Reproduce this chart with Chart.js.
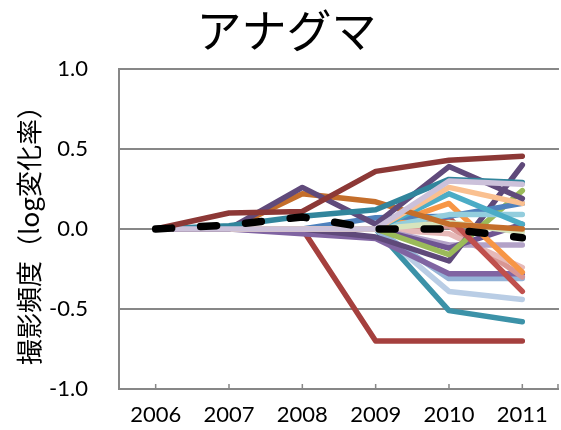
<!DOCTYPE html>
<html>
<head>
<meta charset="utf-8">
<script src="https://cdn.jsdelivr.net/npm/chart.js@4/dist/chart.umd.min.js"></script>
<style>
  html, body { margin: 0; padding: 0; background: #fff; }
  #wrap { width: 561px; height: 430px; }
</style>
</head>
<body>
<div id="wrap"><canvas id="c" width="561" height="430"></canvas></div>
<script>
// Years on the x axis and y-axis tick labels
const years = ['2006', '2007', '2008', '2009', '2010', '2011'];
const yTickValues = [-1.0, -0.5, 0.0, 0.5, 1.0];

// Log change rate of capture frequency per camera site, plus the mean
const meanRate   = [0, 0.025, 0.075, 0.0, 0.0, -0.055];
const siteA = [0, 0.10, 0.11, 0.36, 0.43, 0.455];
const siteB = [0, 0, 0, -0.70, -0.70, -0.70];
const siteC = [0, 0, 0.26, 0.03, 0.39, 0.19];
const siteD = [0, 0, 0.22, 0.17, 0.03, 0.0];
const siteE = [0, 0.02, 0.08, 0.12, 0.31, 0.29];
const siteF = [0, 0, 0, 0, 0.30, 0.28];
const siteG = [0, 0, 0, 0, 0.26, 0.16];
const siteH = [0, 0, 0, 0, 0.22, 0.03];
const siteI = [0, 0, 0, 0, 0.16, -0.27];
const siteJ = [0, 0, 0, 0, 0.07, -0.39];
const siteK = [0, 0, 0, 0.07, 0.08, 0.16];
const siteL = [0, 0, 0, 0, 0.09, 0.09];
const siteM = [0, 0, 0, 0, 0.04, -0.02];
const siteN = [0, 0, 0, 0, -0.16, 0.24];
const siteO = [0, 0, 0, -0.05, -0.20, 0.40];
const siteP = [0, 0, 0, 0, -0.10, -0.10];
const siteQ = [0, 0, 0, 0, -0.03, -0.24];
const siteR = [0, 0, -0.03, -0.06, -0.28, -0.28];
const siteS = [0, 0, 0, 0, 0.02, -0.30];
const siteT = [0, 0, 0, 0, -0.31, -0.31];
const siteU = [0, 0, 0, 0, -0.39, -0.44];
const siteV = [0, 0, 0, 0, -0.51, -0.58];
const siteW = [0, 0, 0, 0, -0.12, 0.03];

// Stacking order: later entries are painted over earlier ones
const series = [
  { data: siteB, color: '#A5403E' },
  { data: siteV, color: '#3C92A8' },
  { data: siteU, color: '#B9CDE5' },
  { data: siteT, color: '#95B3D7' },
  { data: siteR, color: '#8064A2' },
  { data: siteS, color: '#D99694' },
  { data: siteQ, color: '#E6B9B8' },
  { data: siteP, color: '#B3A2C7' },
  { data: siteW, color: '#6F5592' },
  { data: siteO, color: '#5F497A' },
  { data: siteN, color: '#9BBB59' },
  { data: siteJ, color: '#C0504D' },
  { data: siteI, color: '#F79646' },
  { data: siteK, color: '#4F81BD' },
  { data: siteL, color: '#93CDDD' },
  { data: siteH, color: '#4BACC6' },
  { data: siteM, color: '#D7E4BD' },
  { data: siteG, color: '#FAC090' },
  { data: siteD, color: '#C46E2B' },
  { data: siteC, color: '#604A7B' },
  { data: siteE, color: '#31859C' },
  { data: siteF, color: '#CCC1DA' },
  { data: siteA, color: '#8C3836' }
];

const AXIS_GREY = '#878787';
const NUM_FONT = "Lato, 'Noto Sans CJK JP', sans-serif";
const JP_FONT = "'Noto Sans CJK JP', sans-serif";

// Dataset 0 is painted last, so the mean line sits on top
const datasets = [{
  label: '平均',
  data: meanRate,
  borderColor: '#000000',
  borderWidth: 7.5,
  borderDash: [16, 29],
  borderCapStyle: 'round',
  borderJoinStyle: 'round',
  pointRadius: 0,
  tension: 0
}];
for (let i = series.length - 1; i >= 0; i--) {
  datasets.push({
    label: 'site' + i,
    data: series[i].data,
    borderColor: series[i].color,
    borderWidth: 5.5,
    borderCapStyle: 'round',
    borderJoinStyle: 'round',
    pointRadius: 0,
    tension: 0
  });
}

// Short tick marks pointing up into the plot from the x axis
const innerTicks = {
  id: 'innerTicks',
  beforeDatasetsDraw(chart) {
    const x = chart.scales.x;
    const { ctx, chartArea } = chart;
    ctx.save();
    ctx.strokeStyle = AXIS_GREY;
    ctx.lineWidth = 1.5;
    const xs = years.map((_, i) => x.getPixelForValue(i));
    xs.push(chartArea.right - 1);
    ctx.beginPath();
    xs.forEach(px => {
      ctx.moveTo(px, chartArea.bottom);
      ctx.lineTo(px, chartArea.bottom - 5);
    });
    ctx.stroke();
    ctx.restore();
  }
};

new Chart(document.getElementById('c'), {
  type: 'line',
  data: { labels: years, datasets },
  plugins: [innerTicks],
  options: {
    responsive: false,
    animation: false,
    layout: { padding: { left: 14, right: 2, top: 0, bottom: 0 } },
    plugins: {
      legend: { display: false },
      tooltip: { enabled: false },
      title: {
        display: true,
        text: 'アナグマ',
        color: '#000',
        font: { family: JP_FONT, size: 45, weight: 'normal', lineHeight: 1.1 },
        padding: { top: 6, bottom: 13.5 }
      }
    },
    scales: {
      x: {
        type: 'category',
        offset: true,
        grid: { display: true, drawOnChartArea: false, drawTicks: false },
        border: { display: true, color: AXIS_GREY, width: 2 },
        ticks: { color: '#000', font: { family: NUM_FONT, size: 22 }, padding: 13, maxRotation: 0 },
        afterFit(s) { s.height = 41; }
      },
      y: {
        min: -1,
        max: 1,
        afterBuildTicks(s) { s.ticks = yTickValues.map(v => ({ value: v })); },
        // invisible outer tick marks keep the labels clear of the axis line
        grid: { color: AXIS_GREY, lineWidth: 2, drawTicks: true, tickLength: 31, tickColor: 'rgba(0,0,0,0)' },
        border: { display: true, color: AXIS_GREY, width: 2 },
        ticks: {
          color: '#000',
          font: { family: NUM_FONT, size: 22 },
          padding: 0,
          callback: v => Number(v).toFixed(1)
        },
        title: {
          display: true,
          text: '撮影頻度（log変化率）',
          color: '#000',
          font: { family: JP_FONT, size: 26 },
          padding: { top: 0, bottom: 0 }
        },
        afterFit(s) { s.width = 105; }
      }
    }
  }
});
</script>
</body>
</html>
